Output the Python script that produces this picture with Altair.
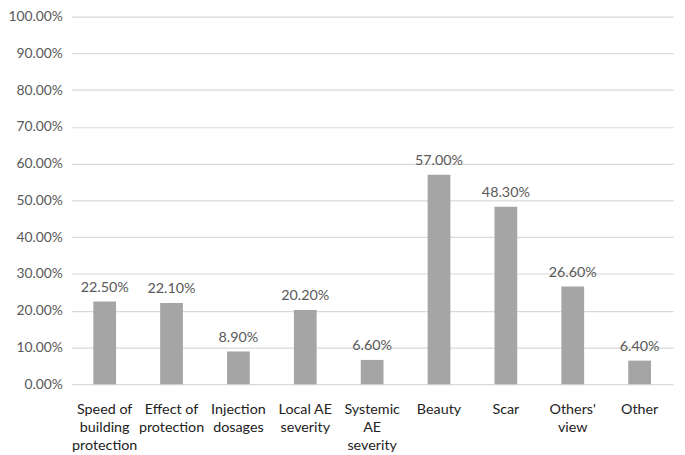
import altair as alt
import pandas as pd

categories = ["Speed of|building|protection", "Effect of|protection", "Injection|dosages",
              "Local AE|severity", "Systemic|AE|severity", "Beauty", "Scar", "Others'|view", "Other"]
values = [0.225, 0.221, 0.089, 0.202, 0.066, 0.570, 0.483, 0.266, 0.064]
y_ticks = [0.0, 0.1, 0.2, 0.3, 0.4, 0.5, 0.6, 0.7, 0.8, 0.9, 1.0]

df = pd.DataFrame({"cat": categories, "val": values})

FONT = "Lato"
TXT = "#595959"

x = alt.X("cat:N", sort=categories, title=None,
          scale=alt.Scale(paddingInner=0.66, paddingOuter=0.33),
          axis=alt.Axis(labelAngle=0, labelExpr="split(datum.label, '|')",
                        labelFont=FONT, labelFontSize=14.5, labelColor="#222222",
                        labelLineHeight=18, labelPadding=19, ticks=False,
                        domain=False, labelBaseline="top", labelOverlap=False))
y = alt.Y("val:Q", title=None,
          scale=alt.Scale(domain=[0, 1], nice=False),
          axis=alt.Axis(values=y_ticks, format=".2%", labelFont=FONT, labelFontSize=14,
                        labelColor=TXT, labelPadding=9, ticks=False, domain=False,
                        labelOverlap=False, labelFlush=False,
                        gridColor="#D9D9D9", gridWidth=1.2))

base = alt.Chart(df).encode(x=x, y=y)
bars = base.mark_bar(color="#A5A5A5")
text = base.mark_text(baseline="bottom", dy=-7, font=FONT, fontSize=14.5, color=TXT).encode(
    text=alt.Text("val:Q", format=".2%"))

chart = (bars + text).properties(
    width=609, height=372,
    autosize=alt.AutoSizeParams(type="none"),
    padding={"left": 64, "top": 6, "right": 4, "bottom": 70},
).configure_view(stroke=None)

chart.save("out.html", embed_options={"renderer": "svg", "actions": False})
